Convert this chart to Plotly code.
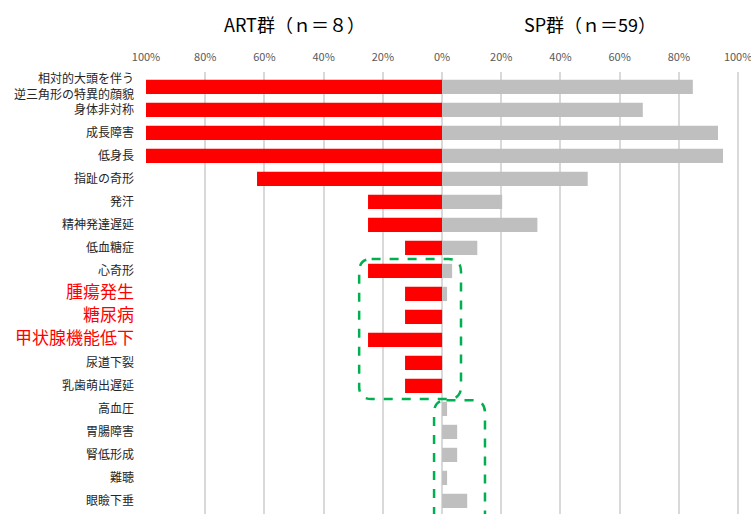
import plotly.graph_objects as go

categories = [
    "相対的大頭を伴う<br>逆三角形の特異的顔貌", "身体非対称", "成長障害", "低身長", "指趾の奇形",
    "発汗", "精神発達遅延", "低血糖症", "心奇形", "腫瘍発生", "糖尿病", "甲状腺機能低下",
    "尿道下裂", "乳歯萌出遅延", "高血圧", "胃腸障害", "腎低形成", "難聴", "眼瞼下垂",
]
highlight = ["腫瘍発生", "糖尿病", "甲状腺機能低下"]

art_pct = [100, 100, 100, 100, 62.5, 25, 25, 12.5, 25, 12.5, 12.5, 25, 12.5, 12.5, 0, 0, 0, 0, 0]
sp_pct = [84.7, 67.8, 93.2, 94.9, 49.2, 20.3, 32.2, 11.9, 3.4, 1.7, 0, 0, 0, 0, 1.7, 5.1, 5.1, 1.7, 8.5]

x_tickvals = [-100, -80, -60, -40, -20, 0, 20, 40, 60, 80, 100]
x_ticktext = ["100%", "80%", "60%", "40%", "20%", "0%", "20%", "40%", "60%", "80%", "100%"]

titles = ["ART群（ｎ＝８）", "SP群（ｎ＝59）"]

ypos = list(range(len(categories)))
ticktext = []
for c in categories:
    if c in highlight:
        ticktext.append(f'<span style="color:#ff0000;font-size:17px">{c}</span>')
    else:
        ticktext.append(c)

fig = go.Figure()
fig.add_trace(go.Bar(y=ypos, x=[-v for v in art_pct], orientation="h",
                     marker=dict(color="#ff0000", line=dict(width=0)), width=0.62,
                     name="ART"))
fig.add_trace(go.Bar(y=ypos, x=sp_pct, orientation="h",
                     marker=dict(color="#bfbfbf", line=dict(width=0)), width=0.62,
                     name="SP"))


def rounded_path(x0, x1, y0, y1, rx, ry):
    return (f"M {x0+rx},{y0} L {x1-rx},{y0} Q {x1},{y0} {x1},{y0+ry} "
            f"L {x1},{y1-ry} Q {x1},{y1} {x1-rx},{y1} L {x0+rx},{y1} "
            f"Q {x0},{y1} {x0},{y1-ry} L {x0},{y0+ry} Q {x0},{y0} {x0+rx},{y0} Z")


boxes = [(-28, 6.4, 7.48, 13.57), (-2.7, 14.5, 13.62, 19.6)]
for b in boxes:
    fig.add_shape(type="path", xref="x", yref="y",
                  path=rounded_path(b[0], b[1], b[2], b[3], 4.2, 0.55),
                  line=dict(color="#00b050", width=2.5, dash="dash"))

for i, t in enumerate(titles):
    fig.add_annotation(text=t, x=-50 if i == 0 else 50, xref="x",
                       y=1 + 48 / 442, yref="paper", yanchor="middle",
                       showarrow=False, font=dict(size=18, color="#000000"))

fig.update_layout(
    width=751, height=514,
    margin=dict(l=146, r=4, t=72, b=0),
    plot_bgcolor="white", paper_bgcolor="white",
    barmode="overlay", showlegend=False,
    font=dict(family="Noto Sans CJK JP", color="#262626"),
    xaxis=dict(range=[-100, 103], side="top", tickvals=x_tickvals, ticktext=x_ticktext,
               showgrid=True, gridcolor="#d9d9d9", gridwidth=1.5, zeroline=False,
               ticks="", ticklabelstandoff=8, tickfont=dict(size=11, color="#595959"),
               ticklabeloverflow="allow", automargin=False, fixedrange=True),
    yaxis=dict(range=[18.57, -0.652], tickvals=ypos, ticktext=ticktext,
               showgrid=False, zeroline=False, ticks="", ticklabelstandoff=11,
               tickfont=dict(size=12, color="#262626"), automargin=False),
)

fig.write_html("out.html", config={"displayModeBar": False},
               post_script="document.body.style.margin='0';document.body.style.overflow='hidden';")
